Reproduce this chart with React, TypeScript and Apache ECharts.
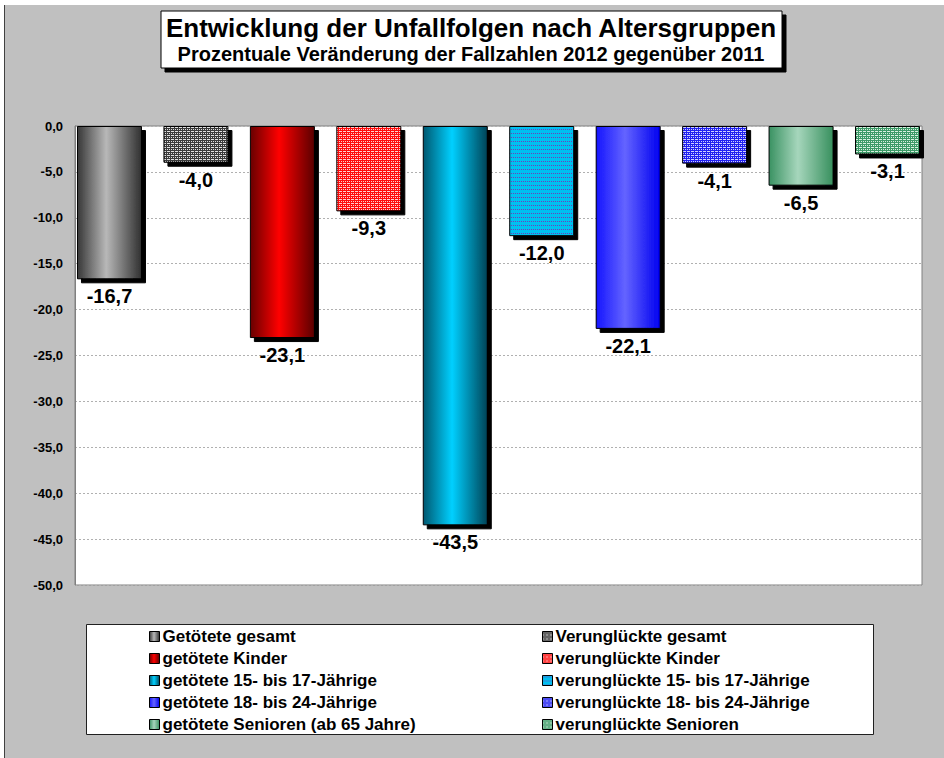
import React, { useEffect, useRef } from "react";
import * as echarts from "echarts";

const categories = [""];
const seriesNames = [
  "Getötete gesamt",
  "Verunglückte gesamt",
  "getötete Kinder",
  "verunglückte Kinder",
  "getötete 15- bis 17-Jährige",
  "verunglückte 15- bis 17-Jährige",
  "getötete 18- bis 24-Jährige",
  "verunglückte 18- bis 24-Jährige",
  "getötete Senioren (ab 65 Jahre)",
  "verunglückte Senioren",
];
const values = [-16.7, -4.0, -23.1, -9.3, -43.5, -12.0, -22.1, -4.1, -6.5, -3.1];
const yMin = -50;
const yMax = 0;
const yInterval = 5;
const titleText = "Entwicklung der Unfallfolgen nach Altersgruppen";
const subtitleText = "Prozentuale Veränderung der Fallzahlen 2012 gegenüber 2011";

const FONT = "'Liberation Sans', Arial, sans-serif";

function fmt(v: number) {
  return v.toFixed(1).replace(".", ",");
}

function grad(dark1: string, light: string, dark2: string) {
  return new echarts.graphic.LinearGradient(0, 0, 1, 0, [
    { offset: 0, color: dark1 },
    { offset: 0.45, color: light },
    { offset: 1, color: dark2 },
  ]);
}

function pattern(rows: string[], map: Record<string, string>) {
  const h = rows.length;
  const w = rows[0].length;
  const c = document.createElement("canvas");
  c.width = w;
  c.height = h;
  const ctx = c.getContext("2d")!;
  for (let y = 0; y < h; y++) {
    for (let x = 0; x < w; x++) {
      ctx.fillStyle = map[rows[y][x]];
      ctx.fillRect(x, y, 1, 1);
    }
  }
  return { image: c, repeat: "repeat" } as any;
}

export default function App() {
  const ref = useRef<HTMLDivElement>(null);
  useEffect(() => {
    if (!ref.current) return;
    const chart = echarts.init(ref.current, undefined, { renderer: "svg" });

    const fills: any[] = [
      grad("#383838", "#b8b8b8", "#303030"),
      pattern(["DDDD", "DLDL", "DDDD", "LLDL"], { D: "#3a3a3a", L: "#e0e0e0" }),
      grad("#680000", "#ff0000", "#5a0000"),
      pattern(["RRRR", "RWRW", "RRRR", "WWRW"], { R: "#ff1010", W: "#ffd0d0" }),
      grad("#005870", "#00d0ff", "#004458"),
      pattern(["CCCC", "CPCP", "CCCC", "CCCC"], { C: "#00c0f0", P: "#7040b8" }),
      grad("#1414ff", "#6464ff", "#0000f0"),
      pattern(["BBBB", "BWBW", "BBBB", "WWBW"], { B: "#2020f0", W: "#d0d0ff" }),
      grad("#3a9262", "#a6d6bc", "#38905e"),
      pattern(["GGGG", "GWGW", "GGGG", "WWGW"], { G: "#3c9a68", W: "#d8f0e0" }),
    ];

    const series = seriesNames.map((name, i) => ({
      name,
      type: "bar",
      data: [values[i]],
      barWidth: 65,
      barGap: "33%",
      itemStyle: {
        color: fills[i],
        borderColor: "#000",
        borderWidth: 1,
        shadowColor: "#000",
        shadowOffsetX: 4,
        shadowOffsetY: 4,
        shadowBlur: 0,
      },
      label: {
        show: true,
        position: "bottom",
        distance: 7,
        formatter: (p: any) => fmt(p.value),
        fontFamily: FONT,
        fontWeight: "bold",
        fontSize: 20,
        color: "#000",
      },
    }));

    const legendCommon = {
      orient: "vertical",
      top: 628,
      padding: 0,
      itemWidth: 10,
      itemHeight: 10,
      itemGap: 5,
      icon: "rect",
      selectedMode: false,
      itemStyle: {
        borderColor: "#000",
        borderWidth: 1,
        shadowColor: "rgba(0,0,0,0)",
        shadowBlur: 0,
        shadowOffsetX: 0,
        shadowOffsetY: 0,
      },
      textStyle: {
        fontFamily: FONT,
        fontWeight: "bold",
        fontSize: 17,
        lineHeight: 17,
        color: "#000",
        padding: [0, 0, 0, -2],
      },
    };

    chart.setOption({
      animation: false,
      backgroundColor: "#ffffff",
      graphic: [
        { type: "rect", z: -10, shape: { x: 4, y: 5, width: 940, height: 753 }, style: { fill: "#c0c0c0" } },
        { type: "line", z: -9, shape: { x1: 4.5, y1: 5, x2: 4.5, y2: 758 }, style: { stroke: "#404040", lineWidth: 1 } },
        {
          type: "rect",
          shape: { x: 161, y: 11, width: 621, height: 57 },
          style: { fill: "#fff", stroke: "#000", lineWidth: 1, shadowColor: "#000", shadowOffsetX: 4, shadowOffsetY: 4, shadowBlur: 0 },
        },
        {
          type: "text",
          x: 471,
          y: 28,
          style: { text: titleText, fontFamily: FONT, fontWeight: "bold", fontSize: 26, fill: "#000", align: "center", verticalAlign: "middle" },
        },
        {
          type: "text",
          x: 471,
          y: 54,
          style: { text: subtitleText, fontFamily: FONT, fontWeight: "bold", fontSize: 20, fill: "#000", align: "center", verticalAlign: "middle" },
        },
        {
          type: "rect",
          shape: { x: 86.5, y: 624.5, width: 787, height: 110 },
          style: { fill: "#fff", stroke: "#202020", lineWidth: 1 },
        },
      ],
      grid: {
        left: 75,
        right: 22,
        top: 126,
        height: 459,
        show: true,
        backgroundColor: "#fff",
        borderColor: "#808080",
        borderWidth: 1,
      },
      xAxis: {
        type: "category",
        data: categories,
        show: false,
      },
      yAxis: {
        type: "value",
        min: yMin,
        max: yMax,
        interval: yInterval,
        axisLine: { show: true, lineStyle: { color: "#808080" } },
        axisTick: { show: false },
        axisLabel: {
          formatter: (v: number) => fmt(v),
          fontFamily: FONT,
          fontWeight: "bold",
          fontSize: 13,
          color: "#000",
          margin: 12,
        },
        splitLine: { show: true, lineStyle: { color: "#b0b0b0", type: [2, 2], width: 1 } },
      },
      legend: [
        { ...legendCommon, left: 149, data: seriesNames.filter((_, i) => i % 2 === 0) },
        { ...legendCommon, left: 542, data: seriesNames.filter((_, i) => i % 2 === 1) },
      ],
      series,
    } as any);

    return () => chart.dispose();
  }, []);

  return (
    <div
      ref={ref}
      style={{ position: "absolute", left: 0, top: 0, width: 944, height: 758 }}
    />
  );
}
